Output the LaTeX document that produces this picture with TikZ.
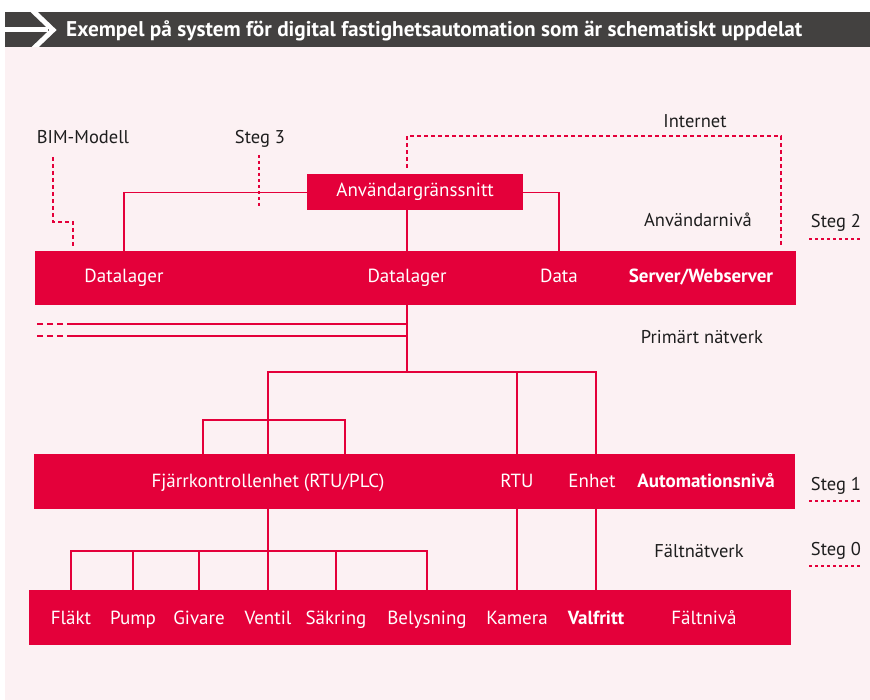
\documentclass[tikz,border=0pt]{standalone}
\usepackage{fontspec}
\setmainfont{PT Sans}
\usetikzlibrary{positioning,calc}
\definecolor{brandred}{RGB}{228,0,58}
\definecolor{bgpink}{RGB}{252,241,243}
\definecolor{headgray}{RGB}{67,65,64}
\definecolor{textdark}{RGB}{30,30,30}

\begin{document}
\begin{tikzpicture}[x=1pt,y=-1pt,
    bar/.style={fill=brandred, draw=none, anchor=north west, inner sep=0pt},
    barlabel/.style={text=white, anchor=base, inner sep=0pt, font=\fontsize{19}{22}\selectfont},
    levellabel/.style={text=textdark, anchor=base, inner sep=0pt, font=\fontsize{18.5}{22}\selectfont},
    link/.style={draw=brandred, line width=1.3pt},
    dashlink/.style={draw=brandred, line width=1.3pt, dash pattern=on 4pt off 3pt},
    stegline/.style={draw=brandred, line width=1.5pt, dash pattern=on 3pt off 3pt}]
    \useasboundingbox (0,0) rectangle (870,700);

    % Header and background
    \fill[bgpink] (5,47) rectangle (870,700);
    \fill[headgray] (5,12) rectangle (870,47);
    \begin{scope}
        \clip (5,12) rectangle (870,47);
        \draw[white, line width=5pt] (5,30) -- (48,30);
        \draw[white, line width=5pt, miter limit=10] (31,9) -- (53,30) -- (31,51);
    \end{scope}
    \node[anchor=base west, inner sep=0pt, text=white, font=\bfseries\fontsize{21.3}{24}\selectfont] (title) at (66,37)
        {Exempel på system för digital fastighetsautomation som är schematiskt uppdelat};

    % User interface
    \node[bar, minimum width=216pt, minimum height=36pt, text=white, font=\fontsize{19}{22}\selectfont] (ui) at (307,174) {Användargränssnitt};

    % Server level
    \node[bar, minimum width=761pt, minimum height=54pt] (server) at (35,251) {};
    \node[barlabel] (dl1) at (124,283) {Datalager};
    \node[barlabel] (dl2) at (407,283) {Datalager};
    \node[barlabel] (data) at (559,283) {Data};
    \node[barlabel, font=\bfseries\fontsize{19}{22}\selectfont] (srv) at (701,283) {Server/Webserver};

    % Automation level
    \node[bar, minimum width=761pt, minimum height=55pt] (auto) at (34,454) {};
    \node[barlabel] (rtuplc) at (268,487) {Fjärrkontrollenhet (RTU/PLC)};
    \node[barlabel] (rtu) at (517,487) {RTU};
    \node[barlabel] (enhet) at (592,487) {Enhet};
    \node[barlabel, font=\bfseries\fontsize{19}{22}\selectfont] (autolvl) at (706,487) {Automationsnivå};

    % Field level
    \node[bar, minimum width=762pt, minimum height=55pt] (field) at (29,590) {};
    \node[barlabel] (flakt) at (71,624) {Fläkt};
    \node[barlabel] (pump) at (133,624) {Pump};
    \node[barlabel] (givare) at (199,624) {Givare};
    \node[barlabel] (ventil) at (268,624) {Ventil};
    \node[barlabel] (sakring) at (336,624) {Säkring};
    \node[barlabel] (belys) at (427,624) {Belysning};
    \node[barlabel] (kamera) at (517,624) {Kamera};
    \node[barlabel, font=\bfseries\fontsize{19}{22}\selectfont] (valf) at (596,624) {Valfritt};
    \node[barlabel] (faltniva) at (704,624) {Fältnivå};

    % Labels
    \node[levellabel] (bim) at (83,144) {BIM-Modell};
    \node[levellabel] (steg3) at (260,144) {Steg 3};
    \node[levellabel] (internet) at (695,128) {Internet};
    \node[levellabel] (userlvl) at (698,227) {Användarnivå};
    \node[levellabel] (primnet) at (702,344) {Primärt nätverk};
    \node[levellabel] (fieldnet) at (699,557) {Fältnätverk};
    \node[levellabel, minimum width=53pt] (steg2) at (836,228) {Steg 2};
    \node[levellabel, minimum width=53pt] (steg1) at (836,490) {Steg 1};
    \node[levellabel, minimum width=53pt] (steg0) at (836,555) {Steg 0};
    \foreach \s in {steg2,steg1,steg0}
        \draw[stegline] ([yshift=-7pt]\s.south west) -- ([yshift=-7pt]\s.south east);

    % User level links
    \draw[link] (dl1 |- server.north) |- (ui.west);
    \draw[link] (dl2 |- ui.south) -- (dl2 |- server.north);
    \draw[link] (ui.east) -| (data |- server.north);

    % Dashed links
    \coordinate (bimtop) at (53,157);
    \coordinate (bimbend) at (73,222);
    \coordinate (bimend) at (73,247);
    \draw[dashlink] (bimtop) |- (bimbend) -- (bimend);
    \coordinate (steg3top) at (259,155);
    \coordinate (steg3end) at (259,208);
    \draw[dashlink, dash pattern=on 3pt off 3pt] (steg3top) -- (steg3end);
    \coordinate (inetstart) at (407,168);
    \coordinate (inetright) at (781,136);
    \coordinate (inetend) at (781,246);
    \draw[dashlink] (inetstart) |- (inetright) -- (inetend);

    % Primary network
    \coordinate (split) at (407,372);
    \coordinate (net1) at (67,324);
    \coordinate (net2) at (67,336);
    \coordinate (net1end) at (36,324);
    \coordinate (net2end) at (36,336);
    \draw[link] (dl2 |- server.south) -- (split);
    \draw[link] (net1) -- (net1 -| dl2);
    \draw[link] (net2) -- (net2 -| dl2);
    \draw[dashlink, dash pattern=on 6pt off 4pt] ([xshift=-4pt]net1) -- (net1end);
    \draw[dashlink, dash pattern=on 6pt off 4pt] ([xshift=-4pt]net2) -- (net2end);
    \draw[link] (rtuplc |- auto.north) |- (valf |- split) -- (valf |- auto.north);
    \draw[link] (rtu |- split) -- (rtu |- auto.north);
    \coordinate (subL) at (203,420);
    \coordinate (subR) at (345,420);
    \draw[link] (subL |- auto.north) -- (subL) -- (subR) -- (subR |- auto.north);

    % Field network
    \coordinate (fnet) at (268,551);
    \draw[link] (rtuplc |- auto.south) -- (rtuplc |- field.north);
    \draw[link] (flakt |- field.north) |- (fnet) -| (belys |- field.north);
    \foreach \n in {pump,givare,sakring}
        \draw[link] (\n |- fnet) -- (\n |- field.north);
    \draw[link] (rtu |- auto.south) -- (rtu |- field.north);
    \draw[link] (valf |- auto.south) -- (valf |- field.north);
\end{tikzpicture}
\end{document}
